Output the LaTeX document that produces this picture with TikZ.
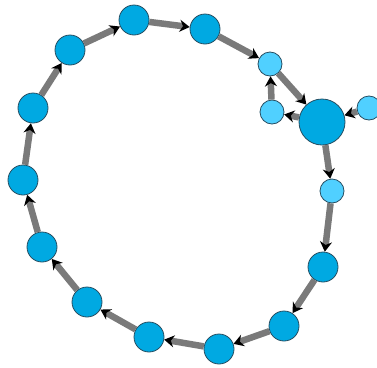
\documentclass[tikz,border=0pt]{standalone}
\usetikzlibrary{arrows.meta}
\definecolor{nodeblue}{RGB}{0,169,226}
\definecolor{lightblue}{RGB}{80,208,255}
\definecolor{edgegray}{RGB}{122,122,122}
\definecolor{rimcol}{RGB}{38,78,98}
\begin{document}
\begin{tikzpicture}[x=1pt, y=-1pt,
    big/.style={circle, draw=rimcol, line width=0.8pt, fill=nodeblue, minimum size=30pt, inner sep=0pt},
    small/.style={circle, draw=rimcol, line width=0.8pt, fill=lightblue, minimum size=24pt, inner sep=0pt},
    hub/.style={big, minimum size=46pt},
    link/.style={draw=edgegray, line width=6.5pt, -{Stealth[length=10pt, width=12pt, black]}}]
    \useasboundingbox (0,0) rectangle (377,367);
    % ring
    \node[big] (r1) at (134,20) {};
    \node[big] (r2) at (205,29) {};
    \node[big] (r3) at (70,50) {};
    \node[big] (r4) at (33,108) {};
    \node[big] (r5) at (23,180) {};
    \node[big] (r6) at (42,247) {};
    \node[big] (r7) at (87,302) {};
    \node[big] (r8) at (149,337) {};
    \node[big] (r9) at (219,349) {};
    \node[big] (r10) at (284,326) {};
    \node[big] (r11) at (323,267) {};
    % hub and its neighbours
    \node[hub] (h) at (322,122) {};
    \node[small] (sa) at (270,64) {};
    \node[small] (sb) at (272,112) {};
    \node[small] (sc) at (369,108) {};
    \node[small] (sd) at (332,191) {};
    \draw[link] (r2) -- (sa);
    \draw[link] (sa) -- (h);
    \draw[link] (h) -- (sb);
    \draw[link] (sb) -- (sa);
    \draw[link] (sc) -- (h);
    \draw[link] (h) -- (sd);
    \draw[link] (sd) -- (r11);
    \draw[link] (r11) -- (r10);
    \draw[link] (r10) -- (r9);
    \draw[link] (r9) -- (r8);
    \draw[link] (r8) -- (r7);
    \draw[link] (r7) -- (r6);
    \draw[link] (r6) -- (r5);
    \draw[link] (r5) -- (r4);
    \draw[link] (r4) -- (r3);
    \draw[link] (r3) -- (r1);
    \draw[link] (r1) -- (r2);
\end{tikzpicture}
\end{document}
